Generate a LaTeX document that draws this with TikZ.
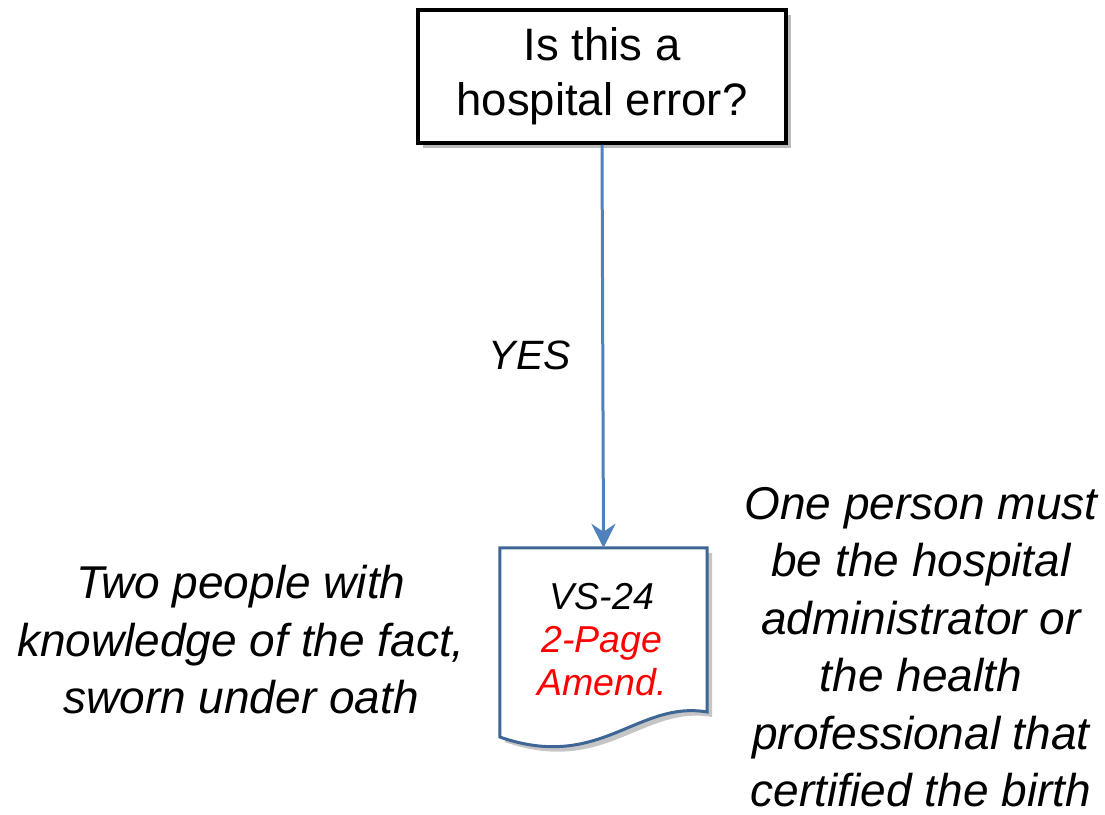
\documentclass[tikz,border=0pt]{standalone}
\usepackage{fontspec}
\setmainfont{Liberation Sans}
\usetikzlibrary{arrows.meta,shadows,positioning}
\definecolor{arrowblue}{HTML}{4F81BD}
\definecolor{docblue}{HTML}{3D6596}
\definecolor{amendred}{HTML}{FF0000}
\tikzset{
  qbox/.style={draw=black,line width=3.5pt,fill=white,minimum width=368pt,minimum height=133pt,align=center,font=\fontsize{45.5}{55}\selectfont,
    drop shadow={shadow xshift=5pt,shadow yshift=-5pt,opacity=0.45,fill=black!60}},
  note/.style={align=center,inner sep=0pt,font=\fontsize{46}{57.5}\selectfont\itshape},
  yesnote/.style={align=center,font=\fontsize{41}{50}\selectfont\itshape},
  doctext/.style={align=center,font=\fontsize{37.5}{43}\selectfont\itshape},
  link/.style={draw=arrowblue,line width=3pt,-{Stealth[length=24pt,width=24pt,inset=8pt]}},
}
\begin{document}
\begin{tikzpicture}[x=1pt,y=-1pt]
\useasboundingbox (0,0) rectangle (1105,814);
\node[qbox] (q) at (602,76.5) {Is this a\\hospital error?};
\node[minimum width=207pt,minimum height=190pt,inner sep=0pt] (doc) at (603.5,643) {};
% document shape
\fill[black!45,opacity=0.5] ([shift={(5,5)}]doc.north west) -- ([shift={(5,5)}]doc.north east) -- ([shift={(5,5)}]doc.east |- 0,712)
  .. controls +(-70,-12) and +(100,35) .. ([shift={(5,5)}]doc.west |- 0,737) -- cycle;
\draw[draw=docblue,line width=3pt,fill=white] (doc.north west) -- (doc.north east) -- (doc.east |- 0,712)
  .. controls +(-70,-12) and +(100,35) .. (doc.west |- 0,737) -- cycle;
\node[doctext] (doclabel) at (602,640) {VS-24\\\textcolor{amendred}{2-Page}\\\textcolor{amendred}{Amend.}};
\draw[link] (q.south) -- (doc.north);
\node[yesnote] (yes) at (530,355) {YES};
\node[note] (left) at (241,640) {Two people with\\knowledge of the fact,\\sworn under oath};
\node[note] (right) at (921,647) {One person must\\be the hospital\\administrator or\\the health\\professional that\\certified the birth};
\end{tikzpicture}
\end{document}
